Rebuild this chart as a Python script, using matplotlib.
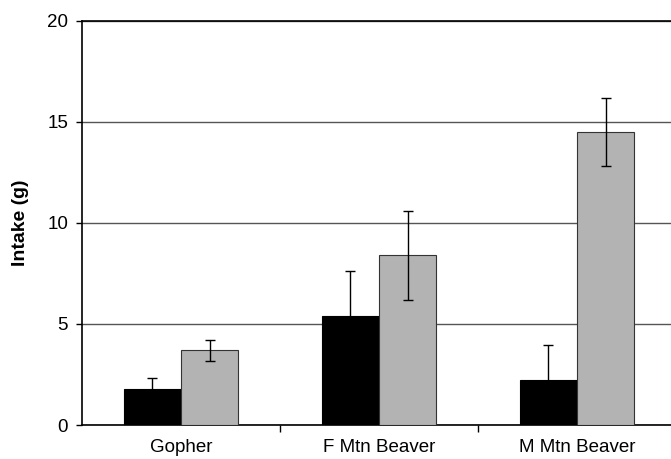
import matplotlib
matplotlib.use("Agg")
import matplotlib.pyplot as plt
import numpy as np

# data
groups = ["Gopher", "F Mtn Beaver", "M Mtn Beaver"]
black_vals = [1.8, 5.4, 2.25]
black_err = [0.55, 2.2, 1.7]
grey_vals = [3.7, 8.4, 14.5]
grey_err = [0.53, 2.2, 1.7]

plt.rcParams['font.family'] = ['Liberation Sans', 'DejaVu Sans']

fig = plt.figure(figsize=(6.71, 4.59), dpi=100)
# right edge of the plot runs past the picture, as in the original
ax = fig.add_axes([82 / 671, (459 - 425) / 459, 594 / 671, 404 / 459])

x = np.arange(len(groups))
w = 0.288
ax.bar(x - w / 2, black_vals, w, color='black', edgecolor='black', linewidth=0.8, zorder=3)
ax.bar(x + w / 2, grey_vals, w, color='#b3b3b3', edgecolor='#333333', linewidth=0.8, zorder=3)
ax.errorbar(x - w / 2, black_vals, yerr=black_err, fmt='none', ecolor='black',
            elinewidth=1, capsize=3.3, capthick=1, zorder=4)
ax.errorbar(x + w / 2, grey_vals, yerr=grey_err, fmt='none', ecolor='black',
            elinewidth=1, capsize=3.3, capthick=1, zorder=4)

ax.set_xlim(-0.5, 2.5)
ax.set_ylim(0, 20)
ax.set_yticks([0, 5, 10, 15, 20])
ax.yaxis.grid(True, color='#555555', linewidth=1)
ax.set_axisbelow(True)

ax.set_xticks(x)
ax.set_xticklabels(groups, fontsize=13.5)
ax.tick_params(axis='x', length=0, pad=10)
ax.set_xticks([0.5, 1.5], minor=True)
ax.tick_params(axis='x', which='minor', length=5, width=1, direction='out')
ax.tick_params(axis='y', labelsize=13.5, length=4, width=1, direction='out', pad=6)

for s in ['top', 'right']:
    ax.spines[s].set_visible(False)
ax.spines['left'].set_linewidth(1.2)
ax.spines['bottom'].set_linewidth(1.2)
ax.axhline(20, color='black', linewidth=1.2, clip_on=False)

ax.set_ylabel("Intake (g)", fontsize=14, fontweight='bold', labelpad=13)

fig.savefig("out.png", dpi=100)
